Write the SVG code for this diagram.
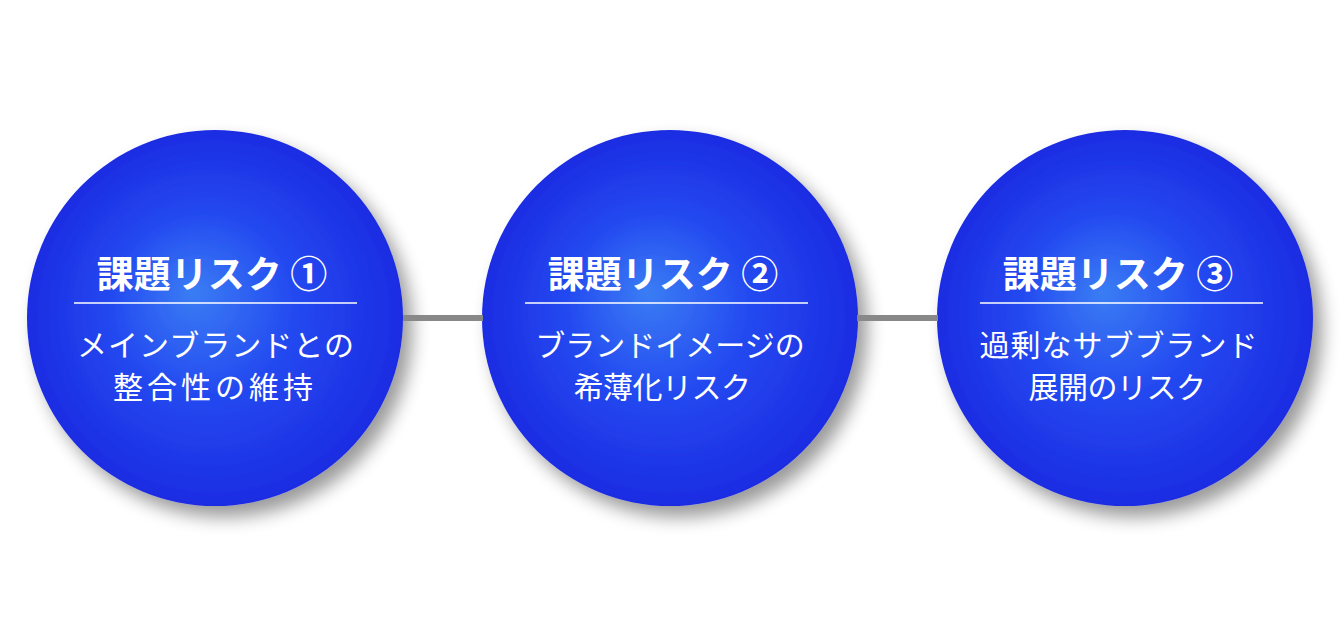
<svg xmlns="http://www.w3.org/2000/svg" width="1343" height="637" viewBox="0 0 1343 637">
  <defs>
    <radialGradient id="ballGrad" cx="0.5" cy="0.5" r="0.5" fx="0.44" fy="0.43">
      <stop offset="0" stop-color="#3a7df4"/>
      <stop offset="0.5" stop-color="#2348f0"/>
      <stop offset="1" stop-color="#1c2ce2"/>
    </radialGradient>
    <filter id="shadow" x="-20%" y="-20%" width="150%" height="150%">
      <feGaussianBlur in="SourceAlpha" stdDeviation="9"/>
      <feOffset dx="9" dy="11" result="b"/>
      <feComponentTransfer><feFuncA type="linear" slope="0.4"/></feComponentTransfer>
      <feMerge><feMergeNode/><feMergeNode in="SourceGraphic"/></feMerge>
    </filter>
    <style>
      .ball { fill: url(#ballGrad); filter: url(#shadow); }
      .title { font-family: "Noto Sans CJK JP", "Noto Sans", sans-serif; font-weight: 700; font-size: 37px; fill: #ffffff; text-anchor: middle; }
      .body { font-family: "Noto Sans CJK JP", "Noto Sans", sans-serif; font-weight: 400; font-size: 30px; fill: #ffffff; text-anchor: middle; }
      .rule { stroke: #ffffff; stroke-width: 1.5; }
      .conn { stroke: #888888; stroke-width: 6; fill: none; }
    </style>
  </defs>
  <rect width="1343" height="637" fill="#ffffff"/>

  <g id="node1">
    <circle class="ball" cx="215" cy="318" r="188"/>
    <text class="title" x="212" y="288">課題リスク ①</text>
    <line class="rule" x1="74" y1="303" x2="357" y2="303"/>
    <text class="body" x="216" y="356" letter-spacing="1">メインブランドとの</text>
    <text class="body" x="215" y="398" letter-spacing="4">整合性の維持</text>
  </g>

  <g id="node2">
    <circle class="ball" cx="670" cy="318" r="188"/>
    <text class="title" x="663" y="288">課題リスク ②</text>
    <line class="rule" x1="525" y1="303" x2="808" y2="303"/>
    <text class="body" x="670" y="356">ブランドイメージの</text>
    <text class="body" x="662" y="398" letter-spacing="-0.5">希薄化リスク</text>
  </g>

  <g id="node3">
    <circle class="ball" cx="1125" cy="318" r="188"/>
    <text class="title" x="1118" y="288">課題リスク ③</text>
    <line class="rule" x1="980" y1="303" x2="1263" y2="303"/>
    <text class="body" x="1119" y="356" letter-spacing="1">過剰なサブブランド</text>
    <text class="body" x="1117" y="398" letter-spacing="-0.5">展開のリスク</text>
  </g>

  <g id="connectors">
    <line class="conn" x1="403" y1="318" x2="483" y2="318"/>
    <line class="conn" x1="857" y1="318" x2="938" y2="318"/>
  </g>
</svg>
